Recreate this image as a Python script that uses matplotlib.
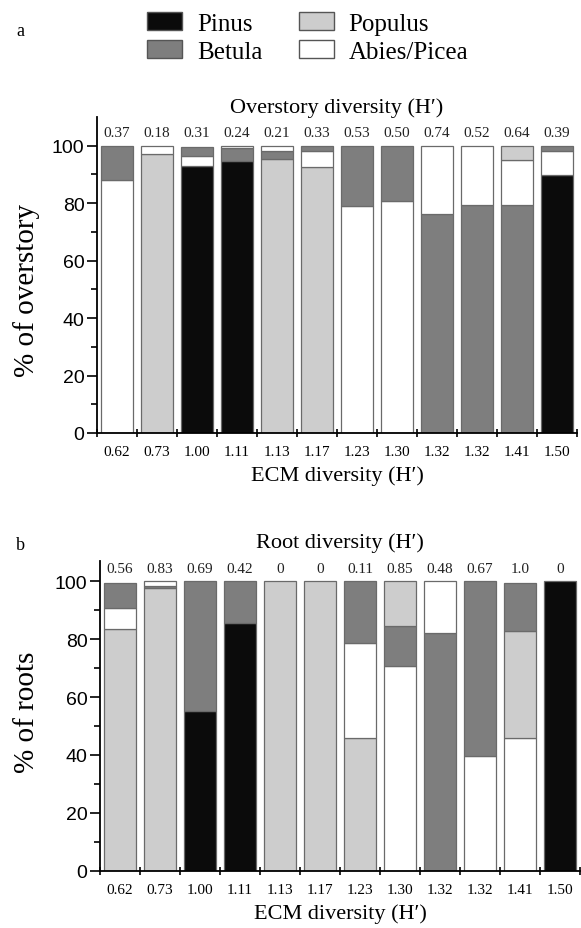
import numpy as np
import matplotlib
matplotlib.use("Agg")
import matplotlib.pyplot as plt
from matplotlib.patches import Patch

# ECM diversity of each site (x labels)
ecm = ['0.62', '0.73', '1.00', '1.11', '1.13', '1.17', '1.23', '1.30', '1.32', '1.32', '1.41', '1.50']

# panel a: overstory composition (%)
over_h = ['0.37', '0.18', '0.31', '0.24', '0.21', '0.33', '0.53', '0.50', '0.74', '0.52', '0.64', '0.39']
over_pinus = [0, 0, 93, 94.8, 0, 0, 0, 0, 0, 0, 0, 89.9]
over_betula = [12, 0, 3, 4.5, 2.5, 2, 21, 19.4, 76.3, 79.2, 79.4, 2]
over_populus = [0, 97, 0, 0, 95.5, 92.7, 0, 0, 0, 0, 4.8, 0]
over_abies = [88, 3, 3.5, 0.7, 2, 5.3, 79, 80.6, 23.7, 20.8, 15.8, 8.1]
over_order = [['Ab', 'Be'], ['Po', 'Ab'], ['Pi', 'Ab', 'Be'], ['Pi', 'Be', 'Ab'],
              ['Po', 'Be', 'Ab'], ['Po', 'Ab', 'Be'], ['Ab', 'Be'], ['Ab', 'Be'],
              ['Be', 'Ab'], ['Be', 'Ab'], ['Be', 'Ab', 'Po'], ['Pi', 'Ab', 'Be']]

# panel b: root composition (%)
root_h = ['0.56', '0.83', '0.69', '0.42', '0', '0', '0.11', '0.85', '0.48', '0.67', '1.0', '0']
root_pinus = [0, 0, 55.2, 85.6, 0, 0, 0, 0, 0, 0, 0, 100]
root_betula = [8.6, 0.7, 44.8, 14.4, 0, 0, 21.2, 14, 82, 60.3, 16.7, 0]
root_populus = [83.6, 97.8, 0, 0, 100, 100, 46, 15.3, 0, 0, 36.8, 0]
root_abies = [7.2, 1.5, 0, 0, 0, 0, 32.8, 70.7, 18, 39.7, 46, 0]
root_order = [['Po', 'Ab', 'Be'], ['Po', 'Be', 'Ab'], ['Pi', 'Be'], ['Pi', 'Be'],
              ['Po'], ['Po'], ['Po', 'Ab', 'Be'], ['Ab', 'Be', 'Po'],
              ['Be', 'Ab'], ['Ab', 'Be'], ['Ab', 'Po', 'Be'], ['Pi']]

names = {'Pi': 'Pinus', 'Be': 'Betula', 'Po': 'Populus', 'Ab': 'Abies/Picea'}
colors = {'Pi': '#0b0b0b', 'Be': '#7e7e7e', 'Po': '#cdcdcd', 'Ab': '#ffffff'}
EDGE = '#6a6a6a'
SERIF = 'Liberation Serif'
SANS = 'Liberation Sans'

fig = plt.figure(figsize=(5.81, 9.29), dpi=100)


def draw_panel(ax, vals, order, hvals, ytop, title, title_y):
	x = np.arange(len(ecm))
	for i in range(len(ecm)):
		bottom = 0
		for key in order[i]:
			v = vals[key][i]
			ax.bar(x[i], v, bottom=bottom, width=0.82, color=colors[key],
				edgecolor=EDGE, linewidth=0.9)
			bottom += v
		ax.text(x[i], 104.5, hvals[i], ha='center', va='center',
			fontsize=11, family=SERIF, color='#222')
	ax.set_xlim(-0.5, len(ecm) - 0.5)
	ax.set_ylim(0, ytop)
	for s in ['top', 'right']:
		ax.spines[s].set_visible(False)
	for s in ['left', 'bottom']:
		ax.spines[s].set_linewidth(1.3)
	ax.set_yticks(np.arange(0, 101, 20))
	ax.set_yticks(np.arange(10, 100, 20), minor=True)
	ax.tick_params(axis='y', which='major', length=7, width=1.2, direction='out',
		labelsize=14, pad=2)
	ax.tick_params(axis='y', which='minor', length=4, width=1.2, direction='out')
	for lab in ax.get_yticklabels():
		lab.set_family(SANS)
	# ticks at bar boundaries, labels at bar centres
	ax.set_xticks(np.arange(-0.5, len(ecm), 1.0))
	ax.set_xticklabels([])
	ax.set_xticks(x, minor=True)
	ax.set_xticklabels(ecm, minor=True, fontsize=11, family=SERIF)
	ax.tick_params(axis='x', which='major', length=6, width=1.2, direction='inout')
	ax.tick_params(axis='x', which='minor', length=0, pad=9)
	ax.set_xlabel("ECM diversity (H\u2032)", fontsize=16, family=SERIF, labelpad=5)
	ax.text(0.5, title_y, title, transform=ax.transAxes, ha='center', va='center',
		fontsize=16, family=SERIF)


W, H = 581.0, 929.0
ax1 = fig.add_axes([97 / W, 1 - 434 / H, 480 / W, 316 / H])
draw_panel(ax1, {'Pi': over_pinus, 'Be': over_betula, 'Po': over_populus, 'Ab': over_abies},
	over_order, over_h, 110, "Overstory diversity (H\u2032)", 1.032)

ax2 = fig.add_axes([100 / W, 1 - 871.7 / H, 480 / W, 309.7 / H])
draw_panel(ax2, {'Pi': root_pinus, 'Be': root_betula, 'Po': root_populus, 'Ab': root_abies},
	root_order, root_h, 107, "Root diversity (H\u2032)", 1.061)

fig.text(27 / W, 1 - 290 / H, "% of overstory", rotation=90, ha='center', va='center',
	fontsize=21, family=SERIF)
fig.text(27 / W, 1 - 712 / H, "% of roots", rotation=90, ha='center', va='center',
	fontsize=21, family=SERIF)
fig.text(20 / W, 1 - 31 / H, "a", fontsize=13, family=SERIF, ha='center', va='center')
fig.text(20 / W, 1 - 546 / H, "b", fontsize=13, family=SERIF, ha='center', va='center')

handles = [Patch(facecolor=colors[k], edgecolor='#555', linewidth=1.0, label=names[k])
	for k in ['Pi', 'Be', 'Po', 'Ab']]
fig.legend(handles=handles, ncol=2, loc='upper left', bbox_to_anchor=(147 / W, 1 - 13 / H),
	frameon=False, borderpad=0, borderaxespad=0, handlelength=1.4, handleheight=0.76,
	handletextpad=0.6, columnspacing=1.45, labelspacing=0.2,
	prop={'family': SERIF, 'size': 18})

fig.savefig("out.png", dpi=100)
